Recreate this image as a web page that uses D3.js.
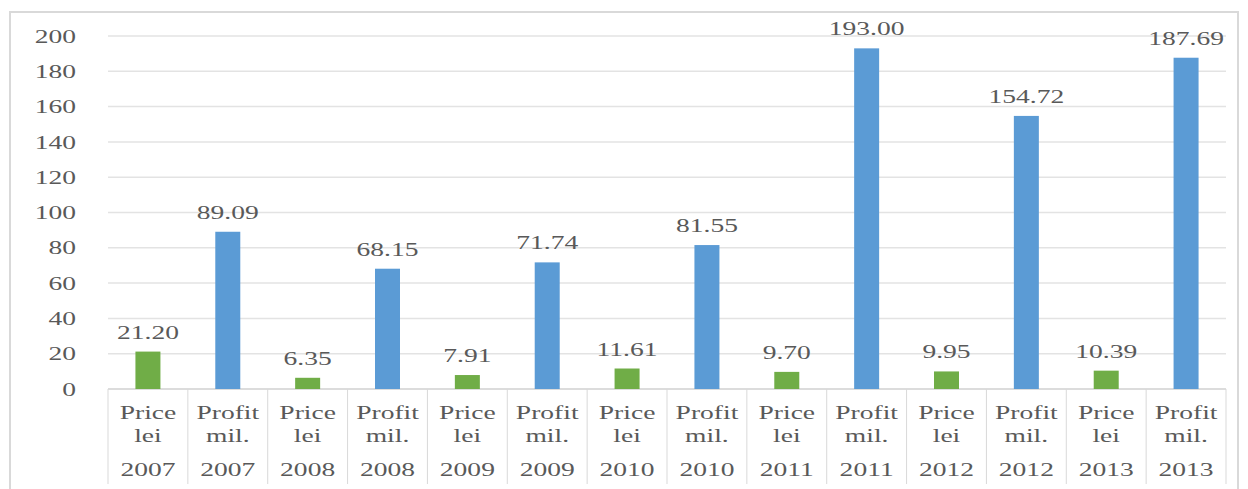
<!DOCTYPE html>
<html>
<head>
<meta charset="utf-8">
<script src="https://cdn.jsdelivr.net/npm/d3@7"></script>
<style>
  body { margin: 0; background: #fff; }
  text { font-family: "Liberation Serif", "Times New Roman", serif; fill: #595959; }
</style>
</head>
<body>
<svg></svg>
<script>
var categories = ["Price lei 2007", "Profit mil. 2007", "Price lei 2008", "Profit mil. 2008",
  "Price lei 2009", "Profit mil. 2009", "Price lei 2010", "Profit mil. 2010",
  "Price lei 2011", "Profit mil. 2011", "Price lei 2012", "Profit mil. 2012",
  "Price lei 2013", "Profit mil. 2013"];
var values = [21.20, 89.09, 6.35, 68.15, 7.91, 71.74, 11.61, 81.55, 9.70, 193.00, 9.95, 154.72, 10.39, 187.69];
var kinds = ["price", "profit", "price", "profit", "price", "profit", "price", "profit",
  "price", "profit", "price", "profit", "price", "profit"];
var yTicks = [0, 20, 40, 60, 80, 100, 120, 140, 160, 180, 200];

var width = 1248, height = 489;
var svg = d3.select("svg").attr("width", width).attr("height", height);

var plotLeft = 108, plotRight = 1226, plotTop = 36, plotBottom = 389;
var stretch = 1.45; // the source image is stretched horizontally

// outer frame
svg.append("rect")
    .attr("x", 10).attr("y", 12)
    .attr("width", 1228).attr("height", 490)
    .attr("fill", "none")
    .attr("stroke", "#d9d9d9")
    .attr("stroke-width", 2);

var x = d3.scaleBand().domain(categories).range([plotLeft, plotRight]).padding(0);
var y = d3.scaleLinear().domain([0, 200]).range([plotBottom, plotTop]);

var color = { price: "#70ad47", profit: "#5b9bd5" };

// gridlines
svg.append("g")
  .selectAll("line")
  .data(yTicks)
  .enter().append("line")
    .attr("x1", plotLeft).attr("x2", plotRight)
    .attr("y1", function(d) { return y(d); })
    .attr("y2", function(d) { return y(d); })
    .attr("stroke", function(d) { return d === 0 ? "#d0d0d0" : "#e3e3e3"; })
    .attr("stroke-width", 1.5);

// y labels
svg.append("g")
  .selectAll("text")
  .data(yTicks)
  .enter().append("text")
    .attr("transform", function(d) { return "translate(76," + y(d) + ") scale(" + stretch + ",1)"; })
    .attr("dy", "0.35em")
    .attr("text-anchor", "end")
    .style("font-size", "19px")
    .text(function(d) { return d; });

// category separators
svg.append("g")
  .selectAll("line")
  .data(d3.range(categories.length + 1))
  .enter().append("line")
    .attr("x1", function(i) { return plotLeft + i * x.bandwidth(); })
    .attr("x2", function(i) { return plotLeft + i * x.bandwidth(); })
    .attr("y1", plotBottom).attr("y2", 484)
    .attr("stroke", "#d9d9d9")
    .attr("stroke-width", 1);

// bars
var barW = 25;
svg.append("g")
  .selectAll("rect")
  .data(values)
  .enter().append("rect")
    .attr("x", function(d, i) { return x(categories[i]) + x.bandwidth() / 2 - barW / 2; })
    .attr("y", function(d) { return y(d); })
    .attr("width", barW)
    .attr("height", function(d) { return y(0) - y(d); })
    .attr("fill", function(d, i) { return color[kinds[i]]; });

// value labels
svg.append("g")
  .selectAll("text")
  .data(values)
  .enter().append("text")
    .attr("transform", function(d, i) {
      return "translate(" + (x(categories[i]) + x.bandwidth() / 2) + "," + (y(d) - 13) + ") scale(" + stretch + ",1)";
    })
    .attr("text-anchor", "middle")
    .style("font-size", "19px")
    .text(function(d) { return d.toFixed(2); });

// category labels (three lines)
var cat = svg.append("g")
  .selectAll("g")
  .data(categories)
  .enter().append("g")
    .attr("transform", function(d) { return "translate(" + (x(d) + x.bandwidth() / 2) + ",0)"; });

var lineY = [419, 442, 476];
lineY.forEach(function(ly, k) {
  cat.append("text")
      .attr("transform", "translate(0," + ly + ") scale(" + stretch + ",1)")
      .attr("text-anchor", "middle")
      .style("font-size", "19px")
      .text(function(d) { return d.split(" ")[k]; });
});
</script>
</body>
</html>
